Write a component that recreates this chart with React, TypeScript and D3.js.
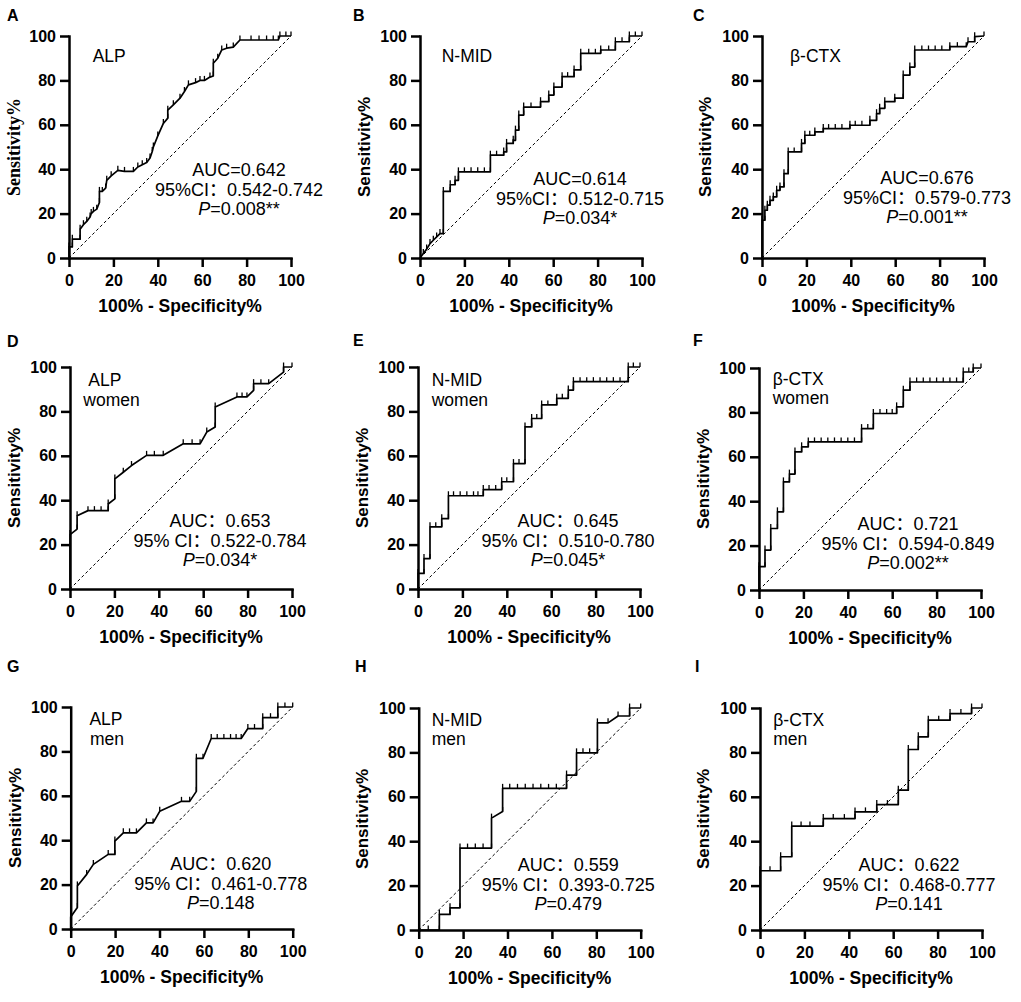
import { useEffect, useRef } from "react";
import * as d3 from "d3";

type Pt = [number, number];

// ROC points (x = 100% - specificity, y = sensitivity)
const rocA: Pt[] = [
  [0, 0], [0, 5], [1.5, 5], [1.5, 8.5], [5, 8.5], [5, 13], [6.5, 15], [8, 16.5], [9.5, 18.5], [10, 20],
  [11, 21], [12.5, 22], [13.7, 25], [13.7, 30], [15, 30], [16.5, 31.5], [17, 35], [19, 37], [22, 39.5],
  [25, 39], [29, 39], [31, 41], [33, 42], [35, 43], [36.5, 45], [37.5, 48], [38, 50], [40, 55], [42.5, 60.6],
  [44.5, 63], [44.5, 66.6], [47, 69], [50, 72], [52, 75], [53.8, 78], [57, 79], [59, 80], [61, 80],
  [63.5, 81.5], [65, 82], [65, 87.7], [67, 90], [68.8, 93.7], [71, 94.5], [74, 95], [77, 98.2], [82, 98.2],
  [85.6, 98.2], [89, 98.2], [92, 98.2], [94.3, 98.2], [95, 100], [97.7, 100], [100, 100],
];
const rocB: Pt[] = [
  [0, 0], [1.5, 2], [3, 4], [4.5, 6.5], [6, 8], [7.5, 9.5], [9, 11], [10.5, 11], [10.5, 30], [13.6, 30],
  [13.6, 33], [15.8, 33], [15.8, 35], [17.3, 35], [17.3, 38.8], [20, 38.8], [23, 38.8], [26, 38.8],
  [29, 38.8], [31.7, 38.8], [31.7, 46.3], [34.5, 46.3], [37.7, 46.3], [37.7, 47.8], [39, 47.8], [39, 51.6],
  [42, 51.6], [42, 53], [43, 53], [43, 57.6], [44.5, 57.6], [44.5, 64.4], [46.7, 64.4], [46.7, 68], [50, 68],
  [54.3, 68], [54.3, 70.4], [58, 70.4], [58, 73.4], [60.3, 73.4], [60.3, 77], [64, 77], [64, 81.7],
  [66.5, 81.7], [69.4, 81.7], [69.4, 84.7], [72.4, 84.7], [72.4, 92.2], [76, 92.2], [79, 92.2], [81.4, 92.2],
  [81.4, 93.7], [85, 93.7], [88, 93.7], [88, 97.4], [91, 97.4], [94.3, 97.4], [94.3, 100], [97, 100], [100, 100],
];
const rocC: Pt[] = [
  [0, 0], [0, 17], [1.3, 17], [1.3, 21.5], [2.4, 21.5], [2.4, 23.8], [3.6, 23.8], [3.6, 26], [5.1, 26],
  [5.1, 27.5], [6.6, 27.5], [6.6, 30.5], [8.1, 30.5], [8.1, 32], [9.9, 32], [9.9, 38], [11.8, 38], [11.8, 47.8],
  [14.5, 47.8], [17.8, 47.8], [17.8, 51.6], [19.3, 51.6], [19.3, 55.3], [21.5, 55.3], [23.8, 55.3], [23.8, 56.8],
  [27.6, 56.8], [27.6, 58.3], [30, 58.3], [33, 58.3], [36, 58.3], [39.6, 58.3], [39.6, 59.8], [42, 59.8],
  [45, 59.8], [48.6, 59.8], [48.6, 62], [51.6, 62], [51.6, 65], [53, 65], [53, 67.4], [55.3, 67.4], [55.3, 70.4],
  [59.8, 70.4], [59.8, 72], [63.6, 72], [63.6, 82.4], [66.6, 82.4], [66.6, 86], [68.8, 86], [68.8, 93.7],
  [72, 93.7], [75, 93.7], [78, 93.7], [81, 93.7], [84.6, 93.7], [84.6, 95.2], [88, 95.2], [92, 95.2],
  [92.8, 97.4], [95.8, 97.4], [95.8, 99.7], [100, 100],
];
const rocD: Pt[] = [
  [0, 0], [0, 24.5], [3.2, 27], [3.2, 33], [8.1, 35.3], [11, 35.3], [14, 35.3], [17.2, 35.3], [17.2, 38.3],
  [20.2, 40.6], [20.2, 49.6], [24, 52.6], [27.7, 55.6], [34.5, 60.2], [38, 60.2], [42, 60.2], [51, 65.4],
  [55, 65.4], [58.6, 65.4], [61.6, 70.7], [65.4, 73], [65.4, 82], [75.2, 86.5], [77.5, 86.5], [79.7, 86.5],
  [82.7, 89.5], [82.7, 92.5], [86, 92.5], [89.5, 92.5], [96.2, 97.7], [96.2, 100], [100, 100],
];
const rocE: Pt[] = [
  [0, 0], [0, 7], [2.7, 7], [2.7, 13.7], [5.4, 13.7], [5.4, 28], [8, 28], [10.7, 28], [10.7, 31.7],
  [13.7, 31.7], [13.7, 42], [16, 42], [19, 42], [22, 42], [25, 42], [27, 42], [29.4, 42], [29.4, 44.8],
  [32, 44.8], [35, 44.8], [37.7, 44.8], [37.7, 48.3], [40, 48.3], [43, 48.3], [43, 56.5], [45.5, 56.5],
  [48.2, 56.5], [48.2, 73], [51.2, 73], [51.2, 76.8], [53.5, 76.8], [55.7, 76.8], [55.7, 82.9], [58.5, 82.9],
  [62.5, 82.9], [62.5, 85.9], [65, 85.9], [67.7, 85.9], [67.7, 89.6], [70, 89.6], [70, 93.4], [73, 93.4],
  [76, 93.4], [79, 93.4], [82, 93.4], [85, 93.4], [88, 93.4], [91, 93.4], [94.7, 93.4], [94.7, 100],
  [97, 100], [100, 100],
];
const rocF: Pt[] = [
  [0, 0], [0, 10.5], [2.7, 10.5], [2.7, 18], [5.3, 18], [5.3, 27.7], [8.3, 27.7], [8.3, 35.2], [11, 35.2],
  [11, 48.7], [13.7, 48.7], [13.7, 52.2], [16.2, 52.2], [16.2, 62.2], [19.2, 62.2], [19.2, 64.5], [22.2, 64.5],
  [22.2, 66.7], [25, 66.7], [28, 66.7], [31, 66.7], [34, 66.7], [37, 66.7], [40, 66.7], [43, 66.7], [46.2, 66.7],
  [46.2, 72.7], [49, 72.7], [51.5, 72.7], [51.5, 79.5], [54.5, 79.5], [57.5, 79.5], [60, 79.5], [62, 79.5],
  [62, 82.5], [65, 82.5], [65, 90], [68, 90], [68, 93.7], [71, 93.7], [74, 93.7], [77, 93.7], [80, 93.7],
  [83, 93.7], [86, 93.7], [89, 93.7], [92, 93.7], [92, 98.2], [94.5, 98.2], [96.5, 98.2], [96.5, 100], [100, 100],
];
const rocG: Pt[] = [
  [0, 0], [0, 5.4], [3, 9.7], [3, 19.4], [7.2, 24.6], [10.2, 29.1], [16.9, 33.6], [19.9, 33.6], [19.9, 39.6],
  [23.7, 43.3], [26.5, 43.3], [29.6, 43.3], [34.1, 47.8], [37.1, 47.8], [40.1, 53], [49.9, 57.5], [53.6, 57.5],
  [56.6, 62], [56.6, 76.9], [59.6, 76.9], [63.3, 85.8], [66, 85.8], [69, 85.8], [72, 85.8], [74.5, 85.8],
  [76.8, 85.8], [79.8, 90.3], [82.8, 90.3], [86.5, 90.3], [86.5, 95.2], [90, 95.2], [93.3, 95.2], [93.3, 100],
  [96.5, 100], [100, 100],
];
const rocH: Pt[] = [
  [0, 0], [4.3, 0], [9.3, 0], [9.3, 7], [14.1, 7], [14.1, 10], [18.6, 10], [18.6, 36.9], [22, 36.9],
  [25.5, 36.9], [29, 36.9], [32.8, 36.9], [32.8, 50.4], [37.8, 53.4], [37.8, 63.8], [41, 63.8], [44.5, 63.8],
  [48, 63.8], [51.5, 63.8], [55, 63.8], [58.5, 63.8], [62, 63.8], [66.6, 63.8], [66.6, 69.8], [71.1, 69.8],
  [71.1, 79.8], [74, 79.8], [77, 79.8], [80.5, 79.8], [80.5, 93.3], [85.3, 93.3], [89.8, 96.4], [95, 96.4],
  [95, 100], [100, 100],
];
const rocI: Pt[] = [
  [0, 0], [0, 26.7], [4.5, 26.7], [9.3, 26.7], [9.3, 33], [14.3, 33], [14.3, 46.8], [18.5, 46.8], [22.5, 46.8],
  [28.5, 46.8], [28.5, 50.2], [33, 50.2], [38, 50.2], [42.8, 50.2], [42.8, 53.2], [47.5, 53.2], [52.6, 53.2],
  [52.6, 56.5], [57.4, 56.5], [62.3, 56.5], [62.3, 63], [66.8, 63], [66.8, 81.3], [71.3, 81.3], [71.3, 87],
  [75.8, 87], [75.8, 94.5], [80.5, 94.5], [85.6, 94.5], [85.6, 97.5], [90.5, 97.5], [95.3, 97.5], [95.3, 100],
  [100, 100],
];

const curves = [rocA, rocB, rocC, rocD, rocE, rocF, rocG, rocH, rocI];
const letters = ["A", "B", "C", "D", "E", "F", "G", "H", "I"];
const markers = ["ALP", "N-MID", "β-CTX", "ALP", "N-MID", "β-CTX", "ALP", "N-MID", "β-CTX"];
const groups = ["", "", "", "women", "women", "women", "men", "men", "men"];
const aucLines = [
  "AUC=0.642", "AUC=0.614", "AUC=0.676",
  "AUC：0.653", "AUC：0.645", "AUC：0.721",
  "AUC：0.620", "AUC：0.559", "AUC：0.622",
];
const ciLines = [
  "95%CI：0.542-0.742", "95%CI：0.512-0.715", "95%CI：0.579-0.773",
  "95% CI：0.522-0.784", "95% CI：0.510-0.780", "95% CI：0.594-0.849",
  "95% CI：0.461-0.778", "95% CI：0.393-0.725", "95% CI：0.468-0.777",
];
const pValues = ["=0.008**", "=0.034*", "=0.001**", "=0.034*", "=0.045*", "=0.002**", "=0.148", "=0.479", "=0.141"];
const axisTicks = [0, 20, 40, 60, 80, 100];

// panel placement (pixels)
const layout = [
  { left: 69, top: 36, letter: [7, 20.5], m1: [23.7, 25.7], m2: [0, 0], stat: [170, 140], yt: -49 },
  { left: 420, top: 36, letter: [353, 20.5], m1: [21.7, 25.7], m2: [0, 0], stat: [160, 149], yt: -50 },
  { left: 762, top: 36, letter: [693, 20.5], m1: [28, 25.7], m2: [0, 0], stat: [165, 148], yt: -51 },
  { left: 70, top: 367, letter: [7, 346.5], m1: [18.3, 19], m2: [13.3, 38.5], stat: [150, 160], yt: -50 },
  { left: 418, top: 367, letter: [353, 346], m1: [13.7, 19], m2: [13.7, 38.5], stat: [150, 160], yt: -50 },
  { left: 759, top: 368, letter: [693, 346], m1: [13.7, 16.5], m2: [13.7, 36], stat: [149, 162], yt: -50 },
  { left: 70.7, top: 707, letter: [7, 672], m1: [18.7, 18], m2: [19.3, 37.5], stat: [150, 163], yt: -50 },
  { left: 418.7, top: 708, letter: [355, 672], m1: [13, 17.5], m2: [13, 37], stat: [149.6, 163], yt: -51 },
  { left: 760, top: 708, letter: [695, 672], m1: [13.3, 17.5], m2: [13.3, 37], stat: [149, 163], yt: -51 },
];

const W = 1021;
const H = 1002;
const SIZE = 222;
const SANS = "'Liberation Sans', Arial, 'Noto Sans CJK SC', sans-serif";
const SERIF = "'Liberation Serif', 'Times New Roman', serif";

export default function App() {
  const svgRef = useRef<SVGSVGElement>(null);

  useEffect(() => {
    if (!svgRef.current) return;
    document.body.style.margin = "0";
    const svg = d3.select(svgRef.current);
    svg.selectAll("*").remove();

    svg.append("rect").attr("width", W).attr("height", H).attr("fill", "#fff");

    curves.forEach((roc, i) => {
      const L = layout[i];
      const g = svg.append("g");
      const x = d3.scaleLinear().domain([0, 100]).range([L.left, L.left + SIZE]);
      const y = d3.scaleLinear().domain([0, 100]).range([L.top + SIZE, L.top]);

      // chance line
      g.append("line")
        .attr("x1", x(0))
        .attr("y1", y(0))
        .attr("x2", x(100))
        .attr("y2", y(100))
        .attr("stroke", "#000")
        .attr("stroke-width", 1)
        .attr("stroke-dasharray", "3,2.5");

      // ROC curve
      const line = d3
        .line<Pt>()
        .x((d) => x(d[0]))
        .y((d) => y(d[1]));
      g.append("path")
        .datum(roc)
        .attr("fill", "none")
        .attr("stroke", "#000")
        .attr("stroke-width", 1.7)
        .attr("stroke-linejoin", "round")
        .attr("d", line);

      // point markers (small upward ticks)
      g.selectAll("line.mk")
        .data(roc.slice(1))
        .join("line")
        .attr("class", "mk")
        .attr("x1", (d) => x(d[0]))
        .attr("x2", (d) => x(d[0]))
        .attr("y1", (d) => y(d[1]))
        .attr("y2", (d) => y(d[1]) - 4.5)
        .attr("stroke", "#000")
        .attr("stroke-width", 1.3);

      // axes
      const xAxis = d3.axisBottom(x).tickValues(axisTicks).tickSize(9).tickSizeOuter(0).tickPadding(7.5);
      const yAxis = d3.axisLeft(y).tickValues(axisTicks).tickSize(9).tickSizeOuter(0).tickPadding(4);

      [
        g.append("g").attr("transform", `translate(0,${L.top + SIZE})`).call(xAxis),
        g.append("g").attr("transform", `translate(${L.left},0)`).call(yAxis),
      ].forEach((ax) => {
        ax.select(".domain").attr("stroke-width", 2.5).attr("stroke-linecap", "square");
        ax.selectAll(".tick line").attr("stroke-width", 2.5);
        ax.selectAll("text")
          .attr("font-family", SANS)
          .attr("font-size", "16px")
          .attr("font-weight", "bold")
          .attr("fill", "#000");
      });

      // axis titles
      g.append("text")
        .attr("x", L.left + SIZE / 2)
        .attr("y", L.top + SIZE + 53.5)
        .attr("text-anchor", "middle")
        .attr("font-family", SANS)
        .attr("font-size", "17.5px")
        .attr("font-weight", "bold")
        .text("100% - Specificity%");

      g.append("text")
        .attr("transform", `translate(${L.left + L.yt},${L.top + SIZE / 2}) rotate(-90)`)
        .attr("text-anchor", "middle")
        .attr("font-family", i === 0 ? SERIF : SANS)
        .attr("font-size", i === 0 ? "18px" : "17px")
        .attr("font-weight", "bold")
        .text("Sensitivity%");

      // panel letter
      g.append("text")
        .attr("x", L.letter[0])
        .attr("y", L.letter[1])
        .attr("font-family", SANS)
        .attr("font-size", "16px")
        .attr("font-weight", "bold")
        .text(letters[i]);

      // marker name and group
      g.append("text")
        .attr("x", L.left + L.m1[0])
        .attr("y", L.top + L.m1[1])
        .attr("font-family", SANS)
        .attr("font-size", "17.5px")
        .text(markers[i]);
      if (groups[i]) {
        g.append("text")
          .attr("x", L.left + L.m2[0])
          .attr("y", L.top + L.m2[1])
          .attr("font-family", SANS)
          .attr("font-size", "17.5px")
          .text(groups[i]);
      }

      // statistics
      const cx = L.left + L.stat[0];
      const sy = L.top + L.stat[1];
      const stat = g
        .append("text")
        .attr("font-family", SANS)
        .attr("font-size", "18px")
        .attr("text-anchor", "middle");
      stat.append("tspan").attr("x", cx).attr("y", sy).text(aucLines[i]);
      stat.append("tspan").attr("x", cx).attr("y", sy + 19.7).text(ciLines[i]);
      const p = stat.append("tspan").attr("x", cx).attr("y", sy + 39.4);
      p.append("tspan").attr("font-style", "italic").text("P");
      p.append("tspan").text(pValues[i]);
    });
  }, []);

  return <svg ref={svgRef} width={W} height={H} style={{ display: "block" }} />;
}
